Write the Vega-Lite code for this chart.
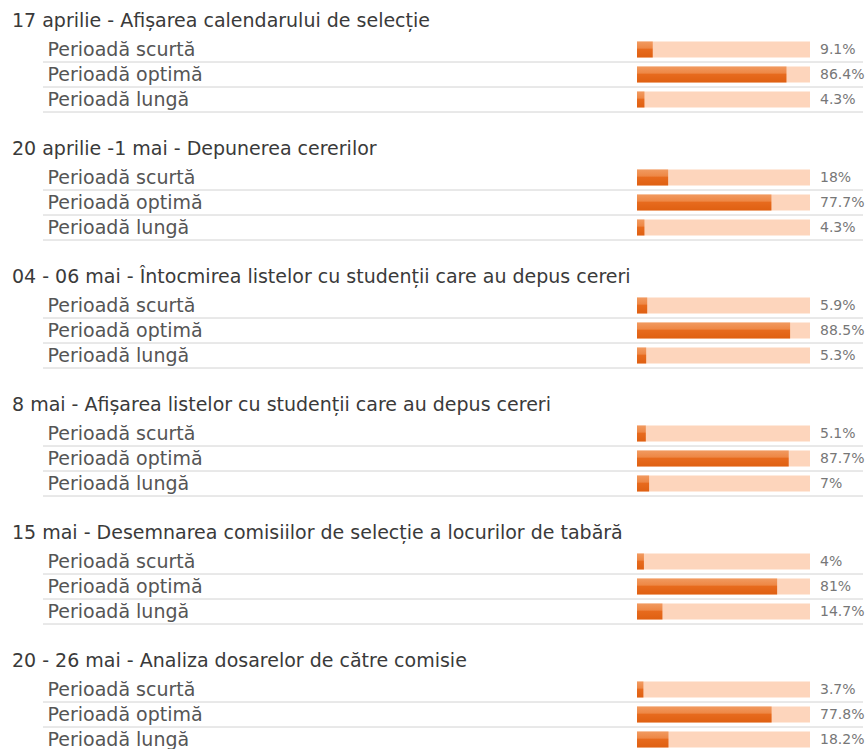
{
  "$schema": "https://vega.github.io/schema/vega-lite/v6.json",
  "padding": {"left": 12, "top": 12, "right": 0, "bottom": 0},
  "background": "#ffffff",
  "config": {
    "font": "DejaVu Sans",
    "view": {"stroke": null},
    "title": {"anchor": "start", "dx": -31, "fontSize": 19, "fontWeight": "normal", "color": "#3a3a3a", "offset": 6, "frame": "group"},
    "axisY": {"title": null, "labelAlign": "left", "labelPadding": -4, "tickSize": 0, "ticks": false, "domain": false, "grid": false, "labelFontSize": 19, "labelColor": "#555555", "labelBaseline": "middle"},
    "concat": {"spacing": 27}
  },
  "data": {"values": [
    {"g": 1, "period": "Perioadă scurtă", "value": 9.1, "label": "9.1%"},
    {"g": 1, "period": "Perioadă optimă", "value": 86.4, "label": "86.4%"},
    {"g": 1, "period": "Perioadă lungă", "value": 4.3, "label": "4.3%"},
    {"g": 2, "period": "Perioadă scurtă", "value": 18, "label": "18%"},
    {"g": 2, "period": "Perioadă optimă", "value": 77.7, "label": "77.7%"},
    {"g": 2, "period": "Perioadă lungă", "value": 4.3, "label": "4.3%"},
    {"g": 3, "period": "Perioadă scurtă", "value": 5.9, "label": "5.9%"},
    {"g": 3, "period": "Perioadă optimă", "value": 88.5, "label": "88.5%"},
    {"g": 3, "period": "Perioadă lungă", "value": 5.3, "label": "5.3%"},
    {"g": 4, "period": "Perioadă scurtă", "value": 5.1, "label": "5.1%"},
    {"g": 4, "period": "Perioadă optimă", "value": 87.7, "label": "87.7%"},
    {"g": 4, "period": "Perioadă lungă", "value": 7, "label": "7%"},
    {"g": 5, "period": "Perioadă scurtă", "value": 4, "label": "4%"},
    {"g": 5, "period": "Perioadă optimă", "value": 81, "label": "81%"},
    {"g": 5, "period": "Perioadă lungă", "value": 14.7, "label": "14.7%"},
    {"g": 6, "period": "Perioadă scurtă", "value": 3.7, "label": "3.7%"},
    {"g": 6, "period": "Perioadă optimă", "value": 77.8, "label": "77.8%"},
    {"g": 6, "period": "Perioadă lungă", "value": 18.2, "label": "18.2%"}
  ]},
  "vconcat": [
    {
      "title": "17 aprilie - Afișarea calendarului de selecție",
      "transform": [{"filter": "datum.g == 1"}],
      "width": 820, "height": 75,
      "encoding": {"y": {"field": "period", "type": "nominal", "sort": ["Perioadă scurtă", "Perioadă optimă", "Perioadă lungă"], "scale": {"paddingInner": 0, "paddingOuter": 0}}},
      "layer": [
        {"mark": {"type": "rule", "color": "#d2d2d2", "strokeWidth": 1}, "encoding": {"y": {"field": "period", "type": "nominal", "bandPosition": 1, "sort": ["Perioadă scurtă", "Perioadă optimă", "Perioadă lungă"]}}},
        {"mark": {"type": "bar", "color": "#fdd5bc", "height": 16}, "encoding": {"x": {"datum": 100, "type": "quantitative", "scale": {"domain": [0, 100], "range": [594, 767]}, "axis": null}}},
        {"mark": {"type": "bar", "height": 16, "color": {"gradient": "linear", "x1": 0, "y1": 0, "x2": 0, "y2": 1, "stops": [{"offset": 0, "color": "#f19a60"}, {"offset": 0.4, "color": "#ee8846"}, {"offset": 0.5, "color": "#e76a1d"}, {"offset": 1, "color": "#df6012"}]}}, "encoding": {"x": {"field": "value", "type": "quantitative", "scale": {"domain": [0, 100], "range": [594, 767]}, "axis": null}}},
        {"mark": {"type": "text", "align": "left", "dx": 10, "fontSize": 14, "color": "#777777"}, "encoding": {"x": {"datum": 100, "type": "quantitative", "scale": {"domain": [0, 100], "range": [594, 767]}, "axis": null}, "text": {"field": "label"}}}
      ]
    },
    {
      "title": "20 aprilie -1 mai - Depunerea cererilor",
      "transform": [{"filter": "datum.g == 2"}],
      "width": 820, "height": 75,
      "encoding": {"y": {"field": "period", "type": "nominal", "sort": ["Perioadă scurtă", "Perioadă optimă", "Perioadă lungă"], "scale": {"paddingInner": 0, "paddingOuter": 0}}},
      "layer": [
        {"mark": {"type": "rule", "color": "#d2d2d2", "strokeWidth": 1}, "encoding": {"y": {"field": "period", "type": "nominal", "bandPosition": 1, "sort": ["Perioadă scurtă", "Perioadă optimă", "Perioadă lungă"]}}},
        {"mark": {"type": "bar", "color": "#fdd5bc", "height": 16}, "encoding": {"x": {"datum": 100, "type": "quantitative", "scale": {"domain": [0, 100], "range": [594, 767]}, "axis": null}}},
        {"mark": {"type": "bar", "height": 16, "color": {"gradient": "linear", "x1": 0, "y1": 0, "x2": 0, "y2": 1, "stops": [{"offset": 0, "color": "#f19a60"}, {"offset": 0.4, "color": "#ee8846"}, {"offset": 0.5, "color": "#e76a1d"}, {"offset": 1, "color": "#df6012"}]}}, "encoding": {"x": {"field": "value", "type": "quantitative", "scale": {"domain": [0, 100], "range": [594, 767]}, "axis": null}}},
        {"mark": {"type": "text", "align": "left", "dx": 10, "fontSize": 14, "color": "#777777"}, "encoding": {"x": {"datum": 100, "type": "quantitative", "scale": {"domain": [0, 100], "range": [594, 767]}, "axis": null}, "text": {"field": "label"}}}
      ]
    },
    {
      "title": "04 - 06 mai - Întocmirea listelor cu studenții care au depus cereri",
      "transform": [{"filter": "datum.g == 3"}],
      "width": 820, "height": 75,
      "encoding": {"y": {"field": "period", "type": "nominal", "sort": ["Perioadă scurtă", "Perioadă optimă", "Perioadă lungă"], "scale": {"paddingInner": 0, "paddingOuter": 0}}},
      "layer": [
        {"mark": {"type": "rule", "color": "#d2d2d2", "strokeWidth": 1}, "encoding": {"y": {"field": "period", "type": "nominal", "bandPosition": 1, "sort": ["Perioadă scurtă", "Perioadă optimă", "Perioadă lungă"]}}},
        {"mark": {"type": "bar", "color": "#fdd5bc", "height": 16}, "encoding": {"x": {"datum": 100, "type": "quantitative", "scale": {"domain": [0, 100], "range": [594, 767]}, "axis": null}}},
        {"mark": {"type": "bar", "height": 16, "color": {"gradient": "linear", "x1": 0, "y1": 0, "x2": 0, "y2": 1, "stops": [{"offset": 0, "color": "#f19a60"}, {"offset": 0.4, "color": "#ee8846"}, {"offset": 0.5, "color": "#e76a1d"}, {"offset": 1, "color": "#df6012"}]}}, "encoding": {"x": {"field": "value", "type": "quantitative", "scale": {"domain": [0, 100], "range": [594, 767]}, "axis": null}}},
        {"mark": {"type": "text", "align": "left", "dx": 10, "fontSize": 14, "color": "#777777"}, "encoding": {"x": {"datum": 100, "type": "quantitative", "scale": {"domain": [0, 100], "range": [594, 767]}, "axis": null}, "text": {"field": "label"}}}
      ]
    },
    {
      "title": "8 mai - Afișarea listelor cu studenții care au depus cereri",
      "transform": [{"filter": "datum.g == 4"}],
      "width": 820, "height": 75,
      "encoding": {"y": {"field": "period", "type": "nominal", "sort": ["Perioadă scurtă", "Perioadă optimă", "Perioadă lungă"], "scale": {"paddingInner": 0, "paddingOuter": 0}}},
      "layer": [
        {"mark": {"type": "rule", "color": "#d2d2d2", "strokeWidth": 1}, "encoding": {"y": {"field": "period", "type": "nominal", "bandPosition": 1, "sort": ["Perioadă scurtă", "Perioadă optimă", "Perioadă lungă"]}}},
        {"mark": {"type": "bar", "color": "#fdd5bc", "height": 16}, "encoding": {"x": {"datum": 100, "type": "quantitative", "scale": {"domain": [0, 100], "range": [594, 767]}, "axis": null}}},
        {"mark": {"type": "bar", "height": 16, "color": {"gradient": "linear", "x1": 0, "y1": 0, "x2": 0, "y2": 1, "stops": [{"offset": 0, "color": "#f19a60"}, {"offset": 0.4, "color": "#ee8846"}, {"offset": 0.5, "color": "#e76a1d"}, {"offset": 1, "color": "#df6012"}]}}, "encoding": {"x": {"field": "value", "type": "quantitative", "scale": {"domain": [0, 100], "range": [594, 767]}, "axis": null}}},
        {"mark": {"type": "text", "align": "left", "dx": 10, "fontSize": 14, "color": "#777777"}, "encoding": {"x": {"datum": 100, "type": "quantitative", "scale": {"domain": [0, 100], "range": [594, 767]}, "axis": null}, "text": {"field": "label"}}}
      ]
    },
    {
      "title": "15 mai - Desemnarea comisiilor de selecție a locurilor de tabără",
      "transform": [{"filter": "datum.g == 5"}],
      "width": 820, "height": 75,
      "encoding": {"y": {"field": "period", "type": "nominal", "sort": ["Perioadă scurtă", "Perioadă optimă", "Perioadă lungă"], "scale": {"paddingInner": 0, "paddingOuter": 0}}},
      "layer": [
        {"mark": {"type": "rule", "color": "#d2d2d2", "strokeWidth": 1}, "encoding": {"y": {"field": "period", "type": "nominal", "bandPosition": 1, "sort": ["Perioadă scurtă", "Perioadă optimă", "Perioadă lungă"]}}},
        {"mark": {"type": "bar", "color": "#fdd5bc", "height": 16}, "encoding": {"x": {"datum": 100, "type": "quantitative", "scale": {"domain": [0, 100], "range": [594, 767]}, "axis": null}}},
        {"mark": {"type": "bar", "height": 16, "color": {"gradient": "linear", "x1": 0, "y1": 0, "x2": 0, "y2": 1, "stops": [{"offset": 0, "color": "#f19a60"}, {"offset": 0.4, "color": "#ee8846"}, {"offset": 0.5, "color": "#e76a1d"}, {"offset": 1, "color": "#df6012"}]}}, "encoding": {"x": {"field": "value", "type": "quantitative", "scale": {"domain": [0, 100], "range": [594, 767]}, "axis": null}}},
        {"mark": {"type": "text", "align": "left", "dx": 10, "fontSize": 14, "color": "#777777"}, "encoding": {"x": {"datum": 100, "type": "quantitative", "scale": {"domain": [0, 100], "range": [594, 767]}, "axis": null}, "text": {"field": "label"}}}
      ]
    },
    {
      "title": "20 - 26 mai - Analiza dosarelor de către comisie",
      "transform": [{"filter": "datum.g == 6"}],
      "width": 820, "height": 75,
      "encoding": {"y": {"field": "period", "type": "nominal", "sort": ["Perioadă scurtă", "Perioadă optimă", "Perioadă lungă"], "scale": {"paddingInner": 0, "paddingOuter": 0}}},
      "layer": [
        {"mark": {"type": "rule", "color": "#d2d2d2", "strokeWidth": 1}, "encoding": {"y": {"field": "period", "type": "nominal", "bandPosition": 1, "sort": ["Perioadă scurtă", "Perioadă optimă", "Perioadă lungă"]}}},
        {"mark": {"type": "bar", "color": "#fdd5bc", "height": 16}, "encoding": {"x": {"datum": 100, "type": "quantitative", "scale": {"domain": [0, 100], "range": [594, 767]}, "axis": null}}},
        {"mark": {"type": "bar", "height": 16, "color": {"gradient": "linear", "x1": 0, "y1": 0, "x2": 0, "y2": 1, "stops": [{"offset": 0, "color": "#f19a60"}, {"offset": 0.4, "color": "#ee8846"}, {"offset": 0.5, "color": "#e76a1d"}, {"offset": 1, "color": "#df6012"}]}}, "encoding": {"x": {"field": "value", "type": "quantitative", "scale": {"domain": [0, 100], "range": [594, 767]}, "axis": null}}},
        {"mark": {"type": "text", "align": "left", "dx": 10, "fontSize": 14, "color": "#777777"}, "encoding": {"x": {"datum": 100, "type": "quantitative", "scale": {"domain": [0, 100], "range": [594, 767]}, "axis": null}, "text": {"field": "label"}}}
      ]
    }
  ]
}
